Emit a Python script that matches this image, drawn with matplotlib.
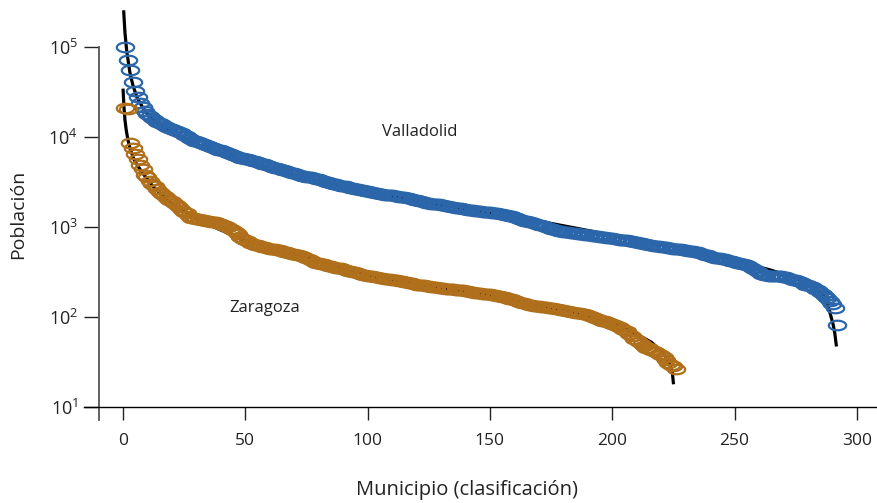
import matplotlib
matplotlib.use("Agg")
import matplotlib.pyplot as plt
import numpy as np
from matplotlib.path import Path
from matplotlib.ticker import FixedLocator, FixedFormatter, NullLocator

# log10 of population, ordered by rank
valladolid_log = [
    5.00, 4.86, 4.74, 4.61, 4.51, 4.44, 4.38, 4.33, 4.29, 4.26,
    4.23, 4.21, 4.19, 4.17, 4.15, 4.14, 4.12, 4.11, 4.10, 4.09,
    4.08, 4.07, 4.05, 4.04, 4.02, 4.01, 3.99, 3.98, 3.96, 3.95,
    3.94, 3.93, 3.92, 3.91, 3.90, 3.89, 3.88, 3.87, 3.86, 3.85,
    3.84, 3.83, 3.82, 3.81, 3.80, 3.79, 3.78, 3.77, 3.77, 3.76,
    3.75, 3.74, 3.73, 3.73, 3.72, 3.71, 3.70, 3.70, 3.69, 3.68,
    3.67, 3.66, 3.65, 3.64, 3.63, 3.63, 3.62, 3.61, 3.60, 3.60,
    3.59, 3.58, 3.57, 3.57, 3.56, 3.55, 3.55, 3.54, 3.53, 3.53,
    3.52, 3.51, 3.50, 3.50, 3.49, 3.48, 3.48, 3.47, 3.46, 3.46,
    3.45, 3.44, 3.43, 3.43, 3.42, 3.42, 3.41, 3.41, 3.40, 3.40,
    3.39, 3.39, 3.38, 3.38, 3.37, 3.37, 3.36, 3.36, 3.35, 3.35,
    3.34, 3.34, 3.33, 3.33, 3.33, 3.32, 3.32, 3.31, 3.30, 3.30,
    3.29, 3.29, 3.28, 3.27, 3.27, 3.26, 3.26, 3.25, 3.25, 3.24,
    3.24, 3.23, 3.23, 3.22, 3.22, 3.21, 3.21, 3.21, 3.20, 3.20,
    3.19, 3.19, 3.19, 3.18, 3.18, 3.18, 3.17, 3.17, 3.17, 3.17,
    3.16, 3.16, 3.15, 3.14, 3.14, 3.13, 3.13, 3.12, 3.12, 3.11,
    3.10, 3.09, 3.08, 3.07, 3.07, 3.06, 3.05, 3.04, 3.03, 3.02,
    3.02, 3.01, 3.00, 2.99, 2.98, 2.98, 2.97, 2.96, 2.95, 2.94,
    2.94, 2.94, 2.93, 2.93, 2.93, 2.92, 2.92, 2.92, 2.91, 2.91,
    2.91, 2.90, 2.90, 2.90, 2.89, 2.89, 2.89, 2.88, 2.88, 2.88,
    2.87, 2.87, 2.86, 2.86, 2.85, 2.85, 2.84, 2.84, 2.83, 2.83,
    2.82, 2.82, 2.81, 2.81, 2.80, 2.80, 2.79, 2.79, 2.79, 2.78,
    2.78, 2.78, 2.77, 2.77, 2.76, 2.76, 2.75, 2.75, 2.74, 2.74,
    2.73, 2.73, 2.73, 2.72, 2.72, 2.71, 2.70, 2.69, 2.69, 2.68,
    2.67, 2.66, 2.66, 2.65, 2.64, 2.64, 2.63, 2.62, 2.62, 2.61,
    2.60, 2.60, 2.59, 2.59, 2.58, 2.57, 2.55, 2.53, 2.51, 2.50,
    2.48, 2.47, 2.47, 2.46, 2.46, 2.46, 2.45, 2.45, 2.45, 2.44,
    2.44, 2.43, 2.42, 2.41, 2.41, 2.40, 2.39, 2.38, 2.36, 2.35,
    2.34, 2.33, 2.31, 2.30, 2.28, 2.26, 2.23, 2.21, 2.18, 2.14,
    2.10, 1.91,
]

zaragoza_log = [
    4.32, 4.31, 3.93, 3.88, 3.81, 3.75, 3.69, 3.64, 3.58, 3.55,
    3.51, 3.48, 3.45, 3.42, 3.39, 3.37, 3.34, 3.32, 3.30, 3.29,
    3.27, 3.24, 3.22, 3.19, 3.17, 3.15, 3.12, 3.10, 3.10, 3.09,
    3.09, 3.08, 3.08, 3.07, 3.07, 3.06, 3.06, 3.05, 3.04, 3.03,
    3.02, 3.01, 3.00, 2.98, 2.97, 2.94, 2.92, 2.89, 2.87, 2.85,
    2.84, 2.82, 2.81, 2.80, 2.80, 2.79, 2.78, 2.78, 2.77, 2.76,
    2.76, 2.75, 2.74, 2.74, 2.73, 2.72, 2.72, 2.71, 2.70, 2.70,
    2.69, 2.69, 2.68, 2.67, 2.66, 2.64, 2.63, 2.61, 2.60, 2.60,
    2.59, 2.59, 2.58, 2.57, 2.57, 2.56, 2.55, 2.55, 2.54, 2.53,
    2.52, 2.51, 2.51, 2.50, 2.50, 2.49, 2.48, 2.47, 2.47, 2.46,
    2.45, 2.45, 2.44, 2.44, 2.43, 2.43, 2.42, 2.42, 2.42, 2.41,
    2.41, 2.41, 2.40, 2.40, 2.39, 2.39, 2.38, 2.38, 2.37, 2.36,
    2.36, 2.35, 2.35, 2.34, 2.34, 2.33, 2.33, 2.33, 2.32, 2.32,
    2.32, 2.31, 2.31, 2.31, 2.31, 2.30, 2.30, 2.30, 2.30, 2.29,
    2.29, 2.28, 2.28, 2.27, 2.27, 2.27, 2.26, 2.26, 2.25, 2.25,
    2.24, 2.24, 2.23, 2.23, 2.22, 2.22, 2.21, 2.20, 2.20, 2.19,
    2.18, 2.17, 2.16, 2.15, 2.14, 2.13, 2.13, 2.12, 2.12, 2.12,
    2.11, 2.11, 2.11, 2.10, 2.10, 2.10, 2.09, 2.09, 2.08, 2.08,
    2.07, 2.07, 2.06, 2.06, 2.05, 2.05, 2.04, 2.03, 2.03, 2.02,
    2.01, 2.00, 1.99, 1.98, 1.97, 1.96, 1.95, 1.94, 1.93, 1.92,
    1.91, 1.90, 1.89, 1.87, 1.86, 1.84, 1.81, 1.79, 1.76, 1.74,
    1.72, 1.70, 1.68, 1.66, 1.65, 1.63, 1.62, 1.61, 1.59, 1.58,
    1.56, 1.52, 1.49, 1.47, 1.45, 1.42,
]

# fitted curves (rank, log10 population)
valladolid_fit_rank = [0.3, 0.8, 1.5, 2.8, 4.0, 5.7, 8.0, 11, 14, 18, 25, 35, 45, 60, 72,
                       85, 100, 120, 150, 175, 200, 225, 250, 265, 275, 282, 286, 288,
                       289, 290.3, 291, 291.6]
valladolid_fit_log = [5.39, 5.16, 4.96, 4.72, 4.58, 4.44, 4.33, 4.22, 4.15, 4.08, 3.98, 3.86,
                      3.77, 3.65, 3.56, 3.48, 3.39, 3.29, 3.16, 3.04, 2.91, 2.78, 2.63, 2.52,
                      2.43, 2.34, 2.25, 2.15, 2.05, 1.92, 1.82, 1.69]
zaragoza_fit_rank = [0.05, 0.4, 0.8, 1.3, 2.0, 3.0, 4.5, 6, 8, 12, 18, 25, 31, 38, 48, 60,
                     72, 85, 100, 120, 150, 180, 200, 210, 216, 221, 223.5, 224.6, 225]
zaragoza_fit_log = [4.52, 4.33, 4.19, 4.08, 3.97, 3.86, 3.75, 3.68, 3.60, 3.46, 3.30, 3.18,
                    3.08, 2.99, 2.87, 2.77, 2.69, 2.58, 2.47, 2.37, 2.24, 2.08, 1.93, 1.81,
                    1.72, 1.60, 1.48, 1.38, 1.27]

x_ticks = [0, 50, 100, 150, 200, 250, 300]
y_ticks = [1e1, 1e2, 1e3, 1e4, 1e5]
y_tick_labels = [r"$\mathregular{10^{%d}}$" % k for k in range(1, 6)]

blue = "#2b66aa"
orange = "#b06f1a"

plt.rcParams["font.family"] = ["Open Sans", "DejaVu Sans"]
plt.rcParams["mathtext.fontset"] = "custom"
plt.rcParams["mathtext.rm"] = "Open Sans"
plt.rcParams["mathtext.it"] = "Open Sans:italic"
plt.rcParams["mathtext.bf"] = "Open Sans:bold"

# flattened open circle, like the original markers
theta = np.linspace(0, 2 * np.pi, 73)
ellipse = Path(np.column_stack([np.cos(theta), 0.55 * np.sin(theta)]))

fig = plt.figure(figsize=(8.78, 5.03), dpi=100)
W, H = 878, 503
ax = fig.add_axes([84 / W, (H - 420) / H, (W - 84) / W, 420 / H])

val_pop = 10 ** np.array(valladolid_log)
zar_pop = 10 ** np.array(zaragoza_log)
val_rank = np.arange(1, len(val_pop) + 1)
zar_rank = np.arange(1, len(zar_pop) + 1)

ax.plot(valladolid_fit_rank, 10 ** np.array(valladolid_fit_log), color="black", lw=2.3, zorder=2)
ax.plot(zaragoza_fit_rank, 10 ** np.array(zaragoza_fit_log), color="black", lw=2.3, zorder=2)
ax.plot(val_rank, val_pop, ls="none", marker=ellipse, ms=12.5, mfc="none", mec=blue, mew=1.6, zorder=3)
ax.plot(zar_rank, zar_pop, ls="none", marker=ellipse, ms=12.5, mfc="none", mec=orange, mew=1.6, zorder=3)

ax.set_yscale("log")
x_left = (84 - 123) / 2.446
x_right = (878 - 123) / 2.446
ax.set_xlim(x_left, x_right)
y_bottom = 10 ** (5 - (420 - 47) / 90)
y_top = 10 ** (5 + 47 / 90)
ax.set_ylim(y_bottom, y_top)

ax.spines["top"].set_visible(False)
ax.spines["right"].set_visible(False)
ax.spines["left"].set_position(("data", (99 - 123) / 2.446))
ax.spines["left"].set_bounds(y_bottom, 1e5)
ax.spines["left"].set_color("#555555")
ax.spines["left"].set_linewidth(1.3)
ax.spines["bottom"].set_position(("data", 10))
ax.spines["bottom"].set_linewidth(1.0)

ax.xaxis.set_major_locator(FixedLocator(x_ticks))
ax.yaxis.set_major_locator(FixedLocator(y_ticks))
ax.yaxis.set_major_formatter(FixedFormatter(y_tick_labels))
ax.yaxis.set_minor_locator(NullLocator())
ax.tick_params(axis="x", direction="out", length=9.5, width=1.0, pad=9, labelsize=12.5, colors="#222222")
ax.tick_params(axis="y", direction="out", length=11, width=1.0, pad=4, labelsize=13, colors="#222222")

ax.text(121.4, 10 ** 4.056, "Valladolid", fontsize=12, ha="center", va="center", color="#222222")
ax.text(58, 10 ** 2.10, "Zaragoza", fontsize=12, ha="center", va="center", color="#222222")

fig.text(467 / W, 1 - 490 / H, "Municipio (clasificación)", fontsize=14.5, ha="center", va="center", color="#222222")
fig.text(18 / W, 1 - 214 / H, "Población", fontsize=14, rotation=90, ha="center", va="center", color="#222222")

fig.savefig("out.png", dpi=100)
